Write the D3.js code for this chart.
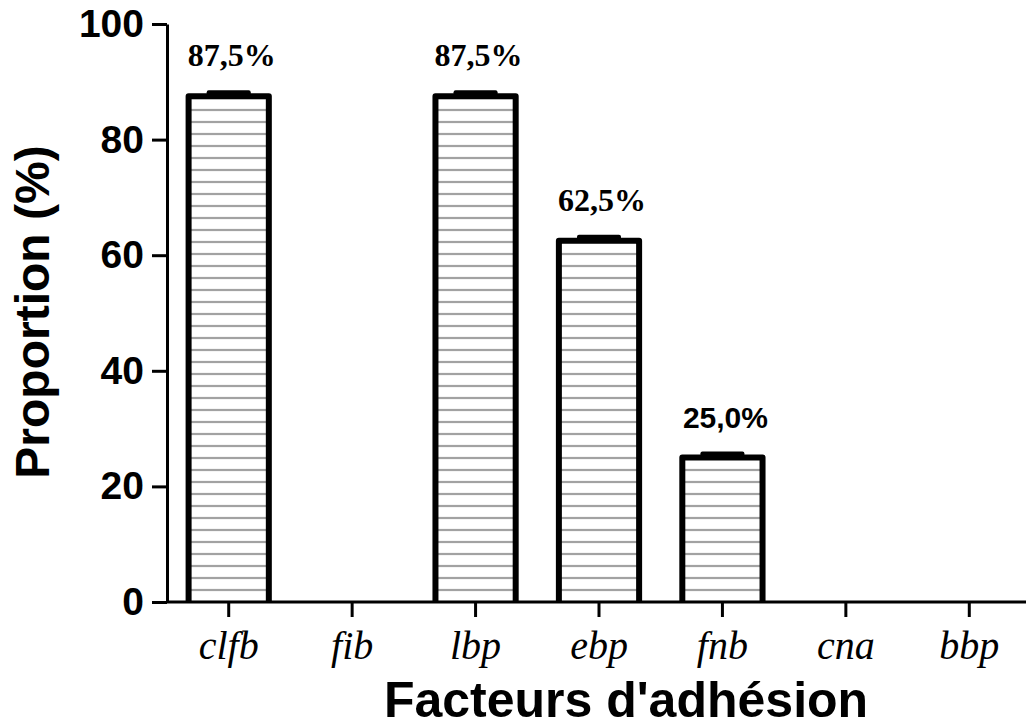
<!DOCTYPE html>
<html>
<head>
<meta charset="utf-8">
<script src="https://cdn.jsdelivr.net/npm/d3@7"></script>
<style>
	body { margin: 0; background: #fff; }
	svg { display: block; }
</style>
</head>
<body>
<svg id="chart" width="1026" height="728"></svg>
<script>
var categories = ['clfb', 'fib', 'lbp', 'ebp', 'fnb', 'cna', 'bbp'];
var values = [87.5, 0, 87.5, 62.5, 25.0, 0, 0];
var valueLabels = ['87,5%', '', '87,5%', '62,5%', '25,0%', '', ''];
var yTicks = [0, 20, 40, 60, 80, 100];

var svg = d3.select('#chart');

var x = d3.scaleBand().domain(categories).range([167, 1031]).paddingInner(0.35).paddingOuter(0.175);
var y = d3.scaleLinear().domain([0, 100]).range([602, 24]);

// horizontal hatching
var pat = svg.append('defs').append('pattern')
	.attr('id', 'hatch')
	.attr('patternUnits', 'userSpaceOnUse')
	.attr('width', 10)
	.attr('height', 12);
pat.append('rect').attr('width', 10).attr('height', 12).attr('fill', '#fff');
pat.append('line')
	.attr('x1', 0).attr('x2', 10)
	.attr('y1', 2).attr('y2', 2)
	.attr('stroke', '#a2a2a2')
	.attr('stroke-width', 2.2);

var bars = svg.append('g');
var data = categories.map(function (c, i) { return { cat: c, v: values[i], lbl: valueLabels[i] }; });
var shown = data.filter(function (d) { return d.v > 0; });

bars.selectAll('rect.fill').data(shown).enter().append('rect')
	.attr('class', 'fill')
	.attr('x', function (d) { return x(d.cat); })
	.attr('y', function (d) { return y(d.v); })
	.attr('width', x.bandwidth())
	.attr('height', function (d) { return y(0) - y(d.v); })
	.attr('fill', 'url(#hatch)');

bars.selectAll('path.edge').data(shown).enter().append('path')
	.attr('class', 'edge')
	.attr('fill', 'none')
	.attr('stroke', '#000')
	.attr('stroke-width', 6)
	.attr('stroke-linejoin', 'round')
	.attr('d', function (d) {
		var x0 = x(d.cat), x1 = x0 + x.bandwidth();
		return 'M' + x0 + ',' + y(0) + 'V' + y(d.v) + 'H' + x1 + 'V' + y(0);
	});

// error bar caps (SEM = 0)
bars.selectAll('rect.cap').data(shown).enter().append('rect')
	.attr('class', 'cap')
	.attr('x', function (d) { return x(d.cat) + x.bandwidth() / 2 - 22; })
	.attr('y', function (d) { return y(d.v) - 6; })
	.attr('width', 44)
	.attr('height', 5)
	.attr('rx', 2)
	.attr('fill', '#000');

bars.selectAll('text.val').data(shown).enter().append('text')
	.attr('class', 'val')
	.attr('x', function (d) { return x(d.cat) + x.bandwidth() / 2 + 3; })
	.attr('y', function (d) { return y(d.v) - 30; })
	.attr('text-anchor', 'middle')
	.attr('font-family', function (d) { return d.cat == 'fnb' ? '"Liberation Sans", Arial, sans-serif' : '"Liberation Serif", "Times New Roman", serif'; })
	.attr('font-weight', 'bold')
	.attr('font-size', function (d) { return d.cat == 'fnb' ? 30 : 32; })
	.text(function (d) { return d.lbl; });

// axes
var gy = svg.append('g')
	.attr('transform', 'translate(167,0)')
	.call(d3.axisLeft(y).tickValues(yTicks).tickSize(15).tickSizeOuter(0).tickPadding(8));
gy.select('.domain').attr('stroke-width', 3);
gy.selectAll('.tick line').attr('stroke-width', 3);
gy.selectAll('.tick text')
	.attr('font-family', '"Liberation Sans", Arial, sans-serif')
	.attr('font-weight', 'bold')
	.attr('font-size', 39)
	.attr('fill', '#000');

var gx = svg.append('g')
	.attr('transform', 'translate(0,602)')
	.call(d3.axisBottom(x).tickSize(15).tickSizeOuter(0).tickPadding(14));
gx.select('.domain').remove();
gx.append('line')
	.attr('x1', 167).attr('x2', 1026)
	.attr('stroke', '#000')
	.attr('stroke-width', 3);
gx.selectAll('.tick line').attr('stroke-width', 3);
gx.selectAll('.tick text')
	.attr('font-family', '"Liberation Serif", "Times New Roman", serif')
	.attr('font-style', 'italic')
	.attr('font-size', 40)
	.attr('fill', '#000');

svg.append('text')
	.attr('x', 626)
	.attr('y', 717)
	.attr('text-anchor', 'middle')
	.attr('font-family', '"Liberation Sans", Arial, sans-serif')
	.attr('font-weight', 'bold')
	.attr('font-size', 50)
	.text("Facteurs d'adhésion");

svg.append('text')
	.attr('transform', 'translate(49,312) rotate(-90)')
	.attr('text-anchor', 'middle')
	.attr('font-family', '"Liberation Sans", Arial, sans-serif')
	.attr('font-weight', 'bold')
	.attr('font-size', 48)
	.text('Proportion (%)');
</script>
</body>
</html>
